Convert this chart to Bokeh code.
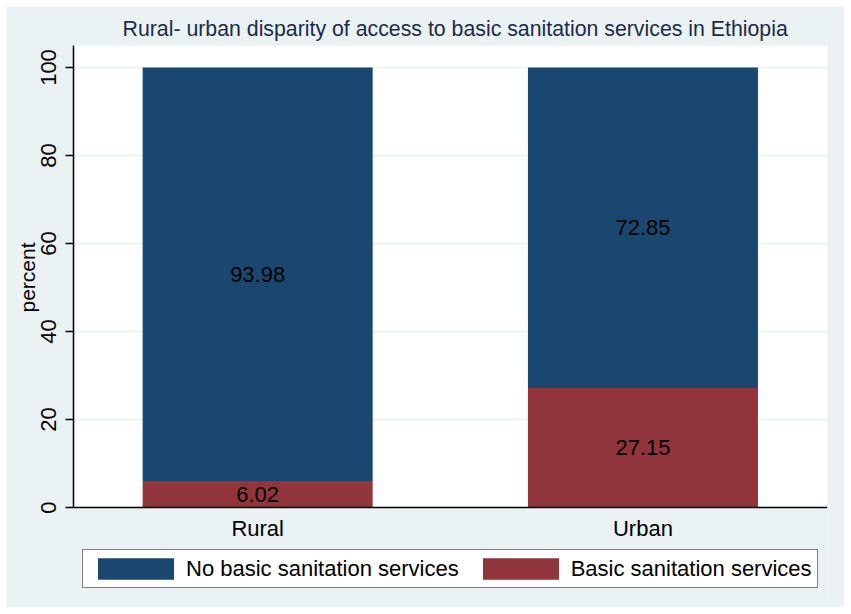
from bokeh.plotting import figure
from bokeh.models import (ColumnDataSource, Range1d, FixedTicker, Legend, LegendItem, LabelSet,
                          BoxAnnotation, Span, Title)
from bokeh.core.properties import value
from bokeh.embed import file_html
from bokeh.resources import INLINE

categories = ["Rural", "Urban"]
no_basic = [93.98, 72.85]
basic = [6.02, 27.15]
series_names = ["No basic sanitation services", "Basic sanitation services"]
y_ticks = [0, 20, 40, 60, 80, 100]
y_label = "percent"

BLUE = "#1A476F"
RED = "#90353B"
BG = "#EAF2F3"
FONT = "Liberation Sans"
FS = "22px"

xs = list(range(len(categories)))
source = ColumnDataSource(dict(
    x=xs,
    cat=categories,
    zero=[0] * len(categories),
    basic=basic,
    no_basic=no_basic,
    basic_lbl=[f"{v:.2f}" for v in basic],
    no_basic_lbl=[f"{v:.2f}" for v in no_basic],
    basic_mid=[b / 2 for b in basic],
    no_basic_mid=[b + n / 2 for b, n in zip(basic, no_basic)],
))

# the frame reaches down under the legend; the white plot region is y >= 0
p = figure(frame_width=754, frame_height=555, output_backend="svg", toolbar_location=None,
           x_range=Range1d(-0.478, 1.479), y_range=Range1d(-21.136, 105),
           x_axis_type=None,
           title="Rural- urban disparity of access to basic sanitation services in Ethiopia",
           min_border_left=67, min_border_right=17, min_border_top=39, min_border_bottom=7)
p.margin = (6, 7, 7, 6)

p.border_fill_color = BG
p.background_fill_color = BG
p.outline_line_color = None
p.add_layout(BoxAnnotation(bottom=0, fill_color="white", fill_alpha=1.0, line_color=None,
                           level="image"))

p.title.text_font = FONT
p.title.text_font_size = "21.3px"
p.title.text_font_style = "normal"
p.title.text_color = "#1C2B4A"
p.title.align = "left"
p.title.offset = 49

renderers = p.vbar_stack(["basic", "no_basic"], x="x", width=0.597, color=[RED, BLUE],
                         line_color=None, source=source)

for col, mid in (("basic_lbl", "basic_mid"), ("no_basic_lbl", "no_basic_mid")):
    p.add_layout(LabelSet(x="x", y=mid, text=col, source=source, text_align="center",
                          text_baseline="middle", text_font=value(FONT),
                          text_font_size=value(FS), text_color="black"))

# category axis: rule at y=0 and category labels under it
p.add_layout(Span(location=0, dimension="width", line_color="black", line_width=1.5))
p.add_layout(LabelSet(x="x", y="zero", text="cat", source=source, text_align="center",
                      text_baseline="middle", y_offset=-21, text_font=value(FONT),
                      text_font_size=value(FS), text_color="black"))

# grid
p.ygrid.grid_line_color = BG
p.ygrid.grid_line_width = 1.5
p.ygrid.ticker = FixedTicker(ticks=y_ticks)

# y axis
p.yaxis.ticker = FixedTicker(ticks=y_ticks)
p.yaxis.bounds = (0, 105)
p.yaxis.major_label_orientation = "vertical"
p.yaxis.major_label_text_font = FONT
p.yaxis.major_label_text_font_size = FS
p.yaxis.major_label_text_color = "black"
p.yaxis.major_label_standoff = 9
p.yaxis.major_tick_out = 8
p.yaxis.major_tick_in = 0
p.yaxis.minor_tick_out = 0
p.yaxis.minor_tick_in = 0
p.yaxis.axis_line_color = "black"
p.yaxis.axis_line_width = 1.5
p.yaxis.major_tick_line_color = "black"
p.yaxis.major_tick_line_width = 1.5

# y axis title, centred on the 0-105 part of the axis
p.add_layout(Title(text=y_label, align="left", offset=288, standoff=0,
                   text_font=FONT, text_font_size="21px", text_font_style="normal",
                   text_color="black"), "left")

legend = Legend(items=[LegendItem(label=series_names[0], renderers=[renderers[1]]),
                       LegendItem(label=series_names[1], renderers=[renderers[0]])],
                orientation="horizontal", location=(9, 12),
                label_text_font=FONT, label_text_font_size=FS, label_text_color="black",
                glyph_width=95, glyph_height=27, label_standoff=3, spacing=14,
                padding=5, margin=0, border_line_color="black", border_line_width=1.5,
                background_fill_color="white", background_fill_alpha=1.0)
p.add_layout(legend, "center")

open("out.html", "w").write(file_html(p, INLINE))
